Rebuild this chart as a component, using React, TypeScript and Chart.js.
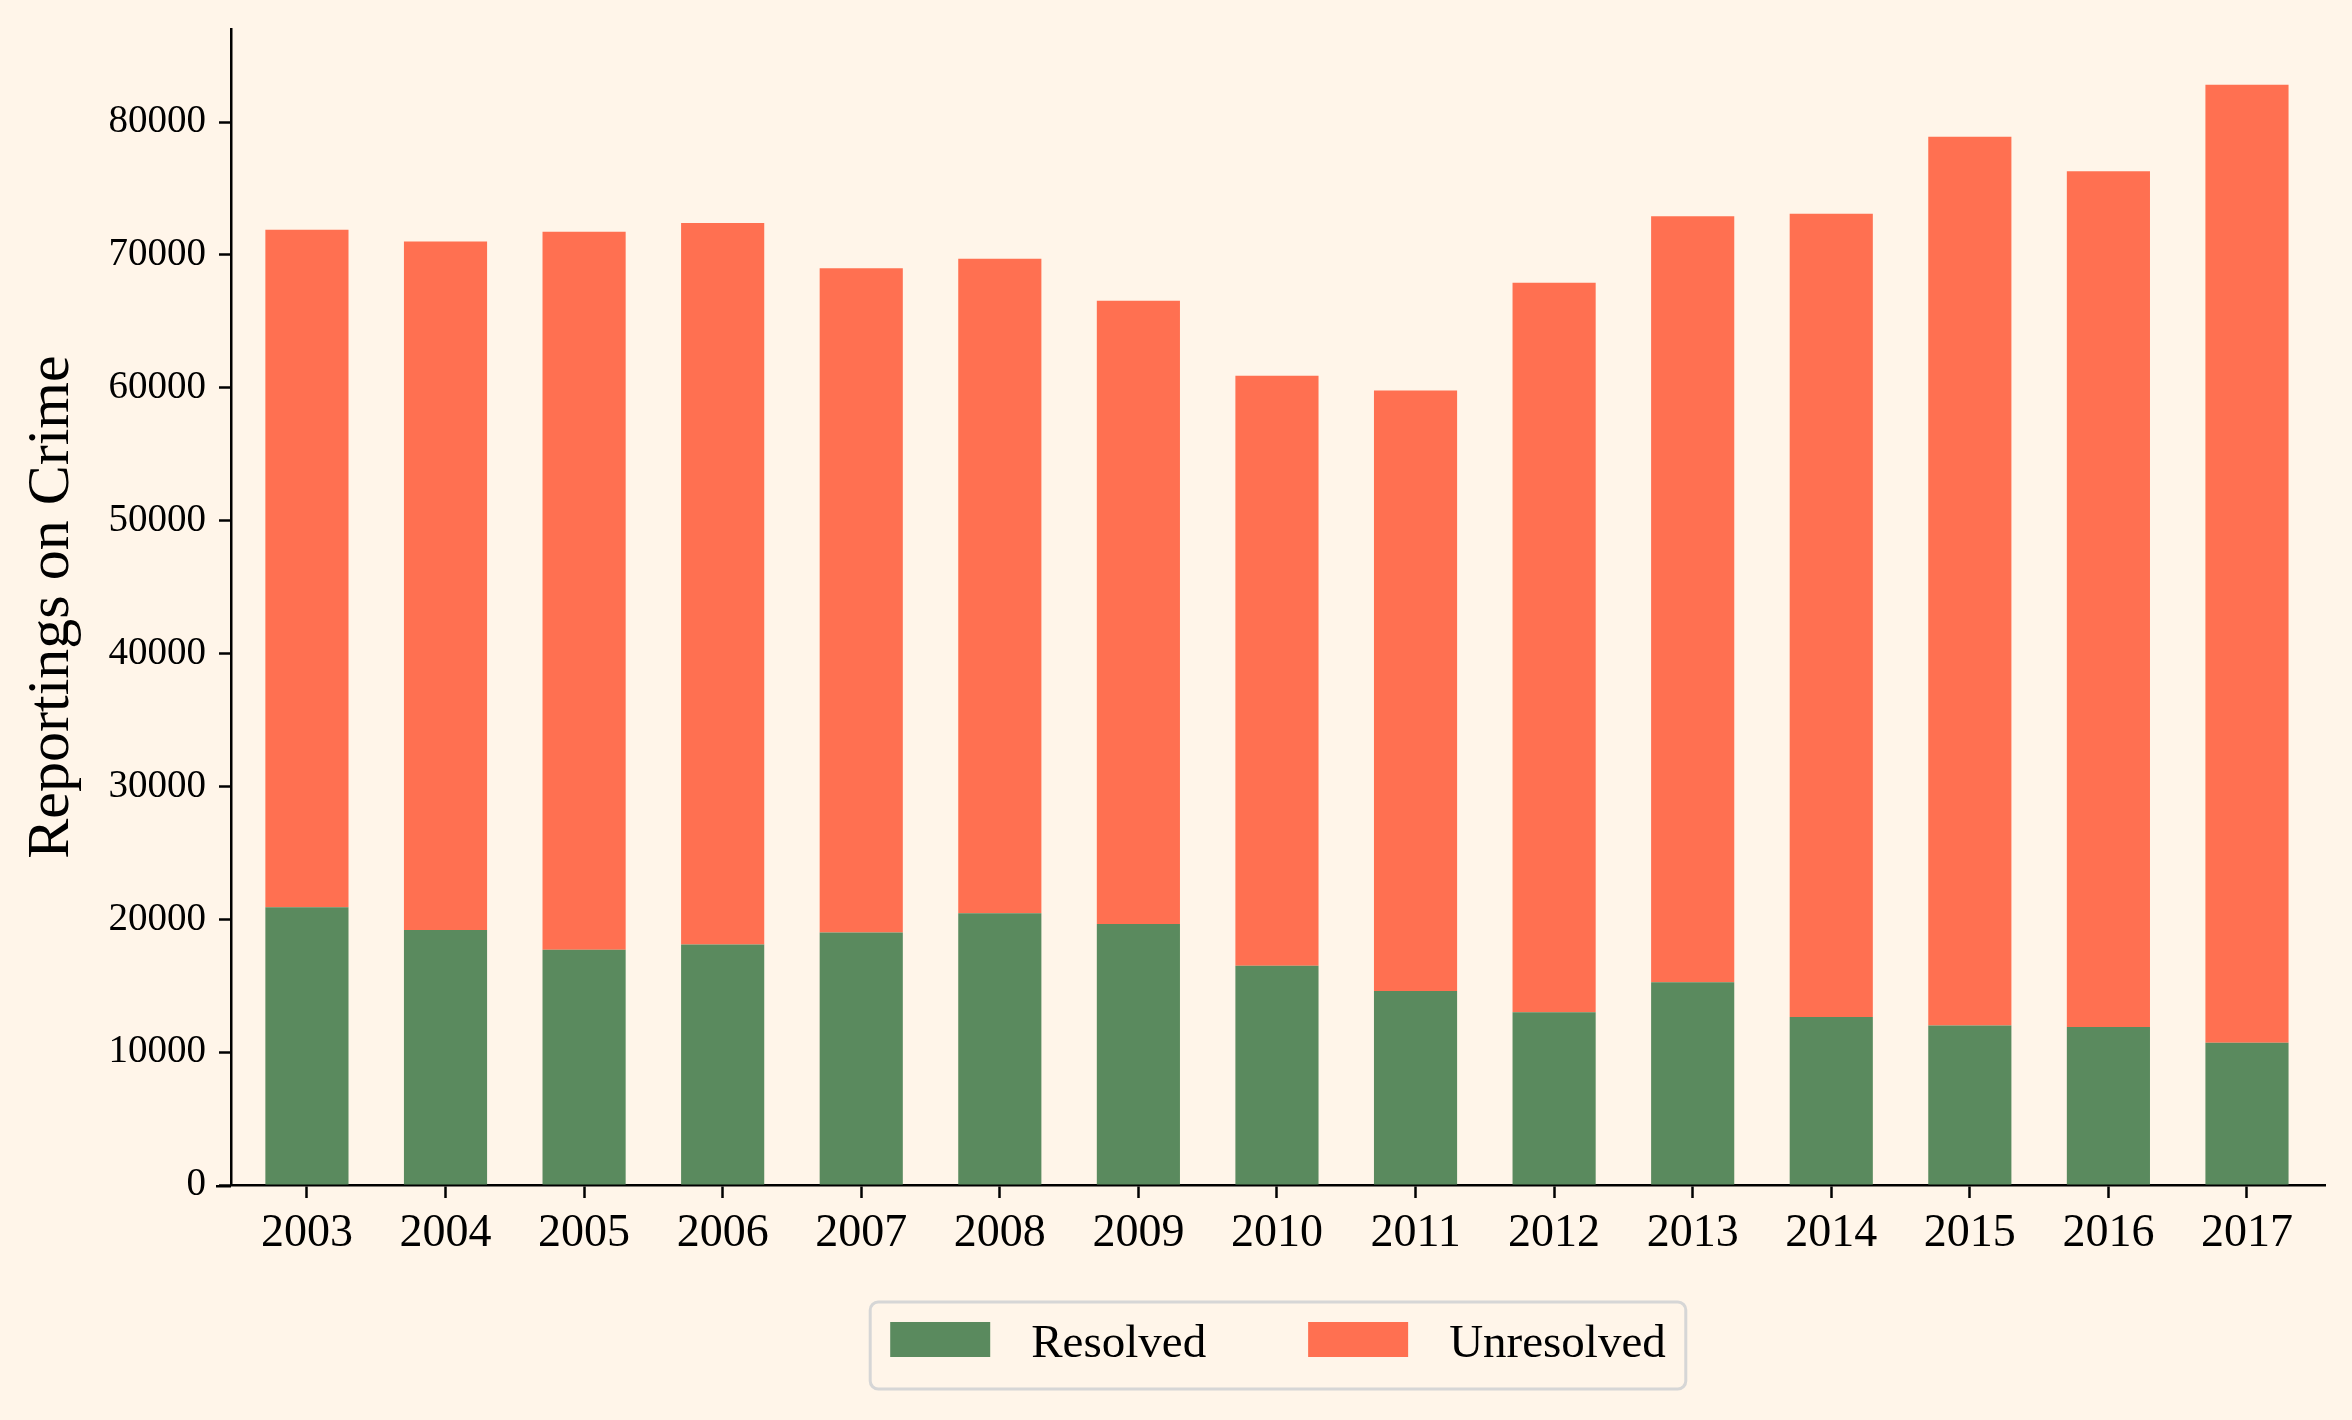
import { useEffect, useRef } from 'react';
import { Chart, registerables } from 'chart.js';

Chart.register(...registerables);

const years = [
  '2003', '2004', '2005', '2006', '2007', '2008', '2009', '2010',
  '2011', '2012', '2013', '2014', '2015', '2016', '2017'
];
const resolved = [
  20900, 19200, 17700, 18100, 19000, 20450, 19650, 16500,
  14600, 13000, 15250, 12650, 12000, 11900, 10700
];
const unresolved = [
  51000, 51800, 54050, 54300, 50000, 49250, 46900, 44400,
  45200, 54900, 57650, 60450, 66900, 64400, 72100
];
const yTicks = [0, 10000, 20000, 30000, 40000, 50000, 60000, 70000, 80000];

const BG = '#fff5e9';
const GREEN = '#5a8a5e';
const ORANGE = '#ff7051';
const FONT = '"Liberation Serif", "Times New Roman", serif';

// matplotlib-style legend box under the axes, plus the little stub of the
// bottom spine that pokes out left of the y spine
const boxLegend = {
  id: 'boxLegend',
  afterDraw(chart: any) {
    const { ctx, chartArea } = chart;
    ctx.save();

    ctx.strokeStyle = '#000';
    ctx.lineWidth = 2.5;
    ctx.beginPath();
    ctx.moveTo(chartArea.left - 15, chartArea.bottom + 1.25);
    ctx.lineTo(chartArea.left, chartArea.bottom + 1.25);
    ctx.stroke();

    const items = chart.data.datasets.map((ds: any) => ({
      label: ds.label,
      color: ds.backgroundColor
    }));
    ctx.font = `47px ${FONT}`;
    const sw = 100;
    const sh = 35;
    const gapText = 41;
    const gapItem = 102;
    const padX = 20;
    const widths = items.map((it: any) => ctx.measureText(it.label).width);
    let total = padX * 2 + gapItem * (items.length - 1);
    items.forEach((_: any, i: number) => {
      total += sw + gapText + widths[i];
    });
    const cx = (chartArea.left + chartArea.right) / 2;
    const left = cx - total / 2;
    const top = chartArea.bottom + 117;
    const h = 87;

    ctx.beginPath();
    ctx.roundRect(left, top, total, h, 8);
    ctx.fillStyle = BG;
    ctx.fill();
    ctx.lineWidth = 3;
    ctx.strokeStyle = '#d6d6d6';
    ctx.stroke();

    let x = left + padX;
    const base = chartArea.bottom + 172;
    items.forEach((it: any, i: number) => {
      ctx.fillStyle = it.color;
      ctx.fillRect(x, base - sh, sw, sh);
      x += sw + gapText;
      ctx.fillStyle = '#000';
      ctx.textAlign = 'left';
      ctx.textBaseline = 'alphabetic';
      ctx.fillText(it.label, x, base);
      x += widths[i] + gapItem;
    });
    ctx.restore();
  }
};

function CrimeChart() {
  const canvasRef = useRef<HTMLCanvasElement | null>(null);
  const chartRef = useRef<Chart | null>(null);

  useEffect(() => {
    if (!canvasRef.current) return;
    if (chartRef.current) chartRef.current.destroy();

    chartRef.current = new Chart(canvasRef.current, {
      type: 'bar',
      data: {
        datasets: [
          {
            label: 'Resolved',
            data: resolved.map((v, i) => ({ x: i, y: v })),
            backgroundColor: GREEN,
            categoryPercentage: 0.6,
            barPercentage: 1
          },
          {
            label: 'Unresolved',
            data: unresolved.map((v, i) => ({ x: i, y: v })),
            backgroundColor: ORANGE,
            categoryPercentage: 0.6,
            barPercentage: 1
          }
        ]
      },
      options: {
        animation: false,
        responsive: true,
        maintainAspectRatio: false,
        devicePixelRatio: 1,
        events: [],
        layout: { padding: { left: 0, top: 29, right: 27, bottom: 0 } },
        plugins: {
          legend: { display: false },
          tooltip: { enabled: false }
        },
        scales: {
          x: {
            type: 'linear',
            stacked: true,
            min: -0.548,
            max: 14.563,
            offset: false,
            afterBuildTicks: (s: any) => {
              s.ticks = years.map((_, i) => ({ value: i }));
            },
            afterFit: (s: any) => {
              s.height = 235;
              s.paddingLeft = 0;
              s.paddingRight = 0;
            },
            ticks: {
              callback: (v: any) => years[v] ?? '',
              font: { family: FONT, size: 46 },
              color: '#000',
              padding: 8,
              maxRotation: 0,
              autoSkip: false
            },
            grid: {
              display: true,
              drawOnChartArea: false,
              offset: false,
              tickLength: 13,
              tickWidth: 2.5,
              tickColor: '#000'
            },
            border: { display: true, color: '#000', width: 2.5 }
          },
          y: {
            type: 'linear',
            stacked: true,
            min: 0,
            max: 87000,
            afterBuildTicks: (s: any) => {
              s.ticks = yTicks.map((v) => ({ value: v }));
            },
            afterFit: (s: any) => {
              s.width = 231;
              s.paddingTop = 0;
              s.paddingBottom = 0;
            },
            ticks: {
              callback: (v: any) => String(v),
              font: { family: FONT, size: 39 },
              color: '#000',
              padding: 13
            },
            grid: {
              display: true,
              drawOnChartArea: false,
              tickLength: 12,
              tickWidth: 2.5,
              tickColor: '#000'
            },
            border: { display: true, color: '#000', width: 2.5 },
            title: {
              display: true,
              text: 'Reportings on Crime',
              font: { family: FONT, size: 60 },
              color: '#000',
              padding: { top: 16, bottom: 0 }
            }
          }
        }
      },
      plugins: [boxLegend]
    } as any);

    return () => {
      if (chartRef.current) {
        chartRef.current.destroy();
        chartRef.current = null;
      }
    };
  }, []);

  return <canvas ref={canvasRef} />;
}

export default function App() {
  return (
    <div
      style={{
        position: 'absolute',
        left: 0,
        top: 0,
        width: 2352,
        height: 1420,
        background: BG
      }}
    >
      <CrimeChart />
    </div>
  );
}
